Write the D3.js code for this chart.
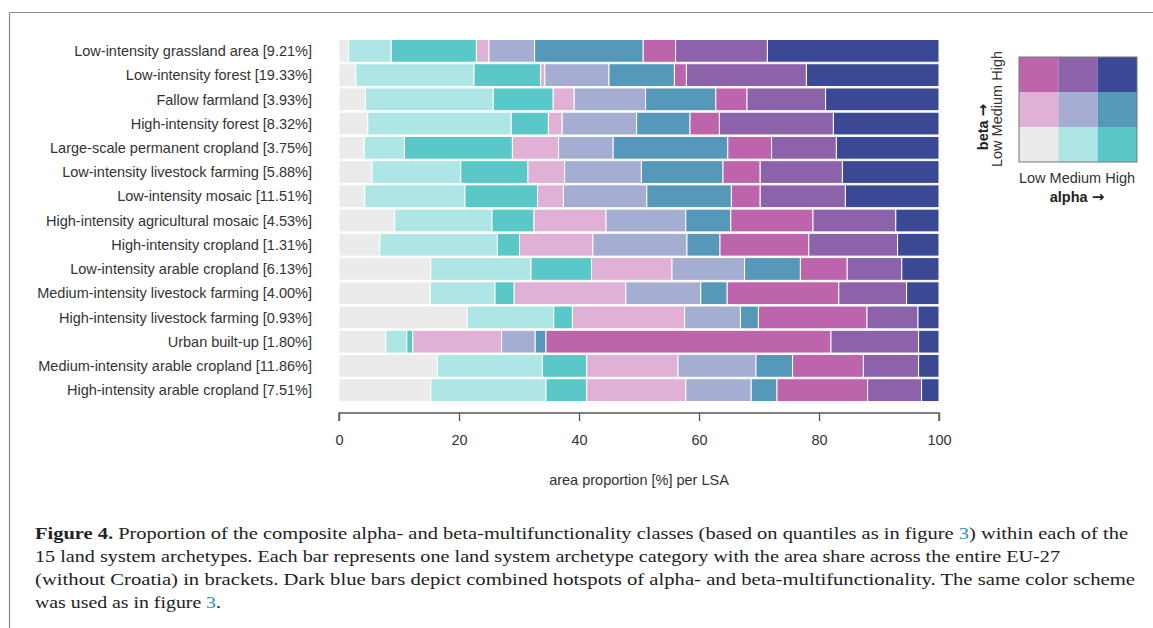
<!DOCTYPE html>
<html>
<head>
<meta charset="utf-8">
<script src="https://cdn.jsdelivr.net/npm/d3@7"></script>
<style>
  body { margin: 0; background: #fff; }
  svg { display: block; }
</style>
</head>
<body>
<div id="chart"></div>
<script>
// land system archetypes, top to bottom
const categories = [
  "Low-intensity grassland area [9.21%]",
  "Low-intensity forest [19.33%]",
  "Fallow farmland [3.93%]",
  "High-intensity forest [8.32%]",
  "Large-scale permanent cropland [3.75%]",
  "Low-intensity livestock farming [5.88%]",
  "Low-intensity mosaic [11.51%]",
  "High-intensity agricultural mosaic [4.53%]",
  "High-intensity cropland [1.31%]",
  "Low-intensity arable cropland [6.13%]",
  "Medium-intensity livestock farming [4.00%]",
  "High-intensity livestock farming [0.93%]",
  "Urban built-up [1.80%]",
  "Medium-intensity arable cropland [11.86%]",
  "High-intensity arable cropland [7.51%]"
];

// area share [%] per class (alpha / beta), one value per archetype
const lowLow       = [1.6, 2.8, 4.4, 4.8, 4.2, 5.5, 4.3, 9.3, 6.8, 15.3, 15.2, 21.4, 7.8, 16.4, 15.3];
const medLow       = [7.1, 19.7, 21.3, 23.9, 6.7, 14.8, 16.7, 16.2, 19.6, 16.7, 10.8, 14.4, 3.5, 17.5, 19.2];
const highLow      = [14.2, 11.1, 10.0, 6.2, 18.0, 11.2, 12.1, 7.0, 3.7, 10.1, 3.2, 3.1, 1.0, 7.4, 6.8];
const lowMed       = [2.1, 0.7, 3.5, 2.3, 7.7, 6.1, 4.3, 12.0, 12.2, 13.4, 18.6, 18.7, 14.8, 15.2, 16.5];
const medMed       = [7.6, 10.7, 11.9, 12.4, 9.1, 12.8, 13.9, 13.3, 15.7, 12.1, 12.5, 9.3, 5.6, 13.0, 10.9];
const highMed      = [18.1, 10.9, 11.7, 8.9, 19.1, 13.6, 14.1, 7.5, 5.5, 9.3, 4.4, 3.0, 1.8, 6.1, 4.3];
const lowHigh      = [5.4, 2.0, 5.2, 4.9, 7.3, 6.2, 4.8, 13.7, 14.8, 7.8, 18.6, 18.1, 47.5, 11.8, 15.1];
const medHigh      = [15.3, 20.0, 13.1, 19.0, 10.8, 13.7, 14.2, 13.8, 14.8, 9.1, 11.3, 8.5, 14.6, 9.2, 9.0];
const highHigh     = [28.6, 22.1, 18.9, 17.6, 17.1, 16.1, 15.6, 7.2, 6.9, 6.2, 5.4, 3.5, 3.4, 3.4, 2.9];

const classKeys = ["lowLow", "medLow", "highLow", "lowMed", "medMed", "highMed", "lowHigh", "medHigh", "highHigh"];
const classColors = ["#ebebeb", "#aee6e6", "#5ac8c8", "#e0b0d6", "#a5add3", "#5698b9", "#be64ac", "#8c62aa", "#3b4994"];
const xTicks = [0, 20, 40, 60, 80, 100];
const levelLabels = ["Low", "Medium", "High"];

const series = { lowLow, medLow, highLow, lowMed, medMed, highMed, lowHigh, medHigh, highHigh };
const rows = categories.map((c, i) => {
  const r = { category: c };
  classKeys.forEach(k => { r[k] = series[k][i]; });
  return r;
});

const width = 1153;
const height = 628;
const sans = "'Liberation Sans', Arial, sans-serif";

const svg = d3.select("#chart")
  .append("svg")
  .attr("width", width)
  .attr("height", height);

// frame lines
svg.append("line")
  .attr("x1", 9.5).attr("x2", width).attr("y1", 12.5).attr("y2", 12.5)
  .attr("stroke", "#8a8a8a").attr("stroke-width", 1.2);
svg.append("line")
  .attr("x1", 9.5).attr("x2", 9.5).attr("y1", 12.5).attr("y2", height)
  .attr("stroke", "#8a8a8a").attr("stroke-width", 1.2);

const x = d3.scaleLinear().domain([0, 100]).range([339, 939]);
const y = d3.scaleBand().domain(categories).range([39, 402]).paddingInner(0.06).paddingOuter(0.02);

const stacked = d3.stack().keys(classKeys)(rows);
const color = d3.scaleOrdinal().domain(classKeys).range(classColors);

svg.append("g")
  .selectAll("g")
  .data(stacked)
  .enter()
  .append("g")
  .attr("fill", d => color(d.key))
  .selectAll("rect")
  .data(d => d)
  .enter()
  .append("rect")
  .attr("x", d => x(d[0]))
  .attr("y", d => y(d.data.category))
  .attr("width", d => Math.max(0, x(d[1]) - x(d[0])))
  .attr("height", y.bandwidth())
  .attr("stroke", "#fff")
  .attr("stroke-width", 1);

// category labels
svg.append("g")
  .selectAll("text")
  .data(categories)
  .enter()
  .append("text")
  .attr("x", 312)
  .attr("y", d => y(d) + y.bandwidth() / 2)
  .attr("dy", "0.36em")
  .attr("text-anchor", "end")
  .style("font-family", sans)
  .style("font-size", "14.5px")
  .style("fill", "#333")
  .text(d => d);

// x axis
const xAxis = svg.append("g")
  .attr("transform", "translate(0,413)")
  .call(d3.axisBottom(x).tickValues(xTicks).tickSize(8).tickPadding(14));
xAxis.select(".domain").attr("stroke", "#555").attr("stroke-width", 1.3)
  .attr("d", `M${x(0)},8V0H${x(100)}V8`);
xAxis.selectAll(".tick line").attr("stroke", "#555").attr("stroke-width", 1.3);
xAxis.selectAll(".tick text")
  .style("font-family", sans)
  .style("font-size", "14.5px")
  .style("fill", "#333");

svg.append("text")
  .attr("x", x(50))
  .attr("y", 485)
  .attr("text-anchor", "middle")
  .style("font-family", sans)
  .style("font-size", "14.5px")
  .style("fill", "#333")
  .text("area proportion [%] per LSA");

// bivariate legend
const lx = d3.scaleBand().domain([0, 1, 2]).range([1019, 1137]);
const ly = d3.scaleBand().domain([2, 1, 0]).range([57, 162]);
const legendCells = [];
classKeys.forEach((k, i) => legendCells.push({ key: k, a: i % 3, b: Math.floor(i / 3) }));

const legend = svg.append("g");
legend.selectAll("rect")
  .data(legendCells)
  .enter()
  .append("rect")
  .attr("x", d => lx(d.a))
  .attr("y", d => ly(d.b))
  .attr("width", lx.bandwidth())
  .attr("height", ly.bandwidth())
  .attr("fill", d => color(d.key));
legend.append("rect")
  .attr("x", 1019).attr("y", 57).attr("width", 118).attr("height", 105)
  .attr("fill", "none").attr("stroke", "#777").attr("stroke-width", 1);

legend.append("text")
  .attr("x", 1077).attr("y", 183)
  .attr("text-anchor", "middle")
  .style("font-family", sans).style("font-size", "14.5px").style("fill", "#333")
  .text(levelLabels.join(" "));

const alphaTitle = legend.append("text")
  .attr("x", 1077).attr("y", 202)
  .attr("text-anchor", "middle")
  .style("font-family", sans).style("font-size", "14.5px").style("font-weight", "bold").style("fill", "#222");
alphaTitle.append("tspan").text("alpha ");
alphaTitle.append("tspan").style("font-family", "'DejaVu Sans', sans-serif").style("font-size", "15px").text("\u2192");

legend.append("text")
  .attr("transform", "translate(1002,109) rotate(-90)")
  .attr("text-anchor", "middle")
  .style("font-family", sans).style("font-size", "14.5px").style("fill", "#333")
  .text(levelLabels.join(" "));

const betaTitle = legend.append("text")
  .attr("transform", "translate(988,127) rotate(-90)")
  .attr("text-anchor", "middle")
  .style("font-family", sans).style("font-size", "14.5px").style("font-weight", "bold").style("fill", "#222");
betaTitle.append("tspan").text("beta ");
betaTitle.append("tspan").style("font-family", "'DejaVu Sans', sans-serif").style("font-size", "15px").text("\u2192");

// caption
const captionLines = [
  { y: 539, len: 1093, parts: [["Figure 4.", "b"], [" Proportion of the composite alpha- and beta-multifunctionality classes (based on quantiles as in figure ", ""], ["3", "l"], [") within each of the", ""]] },
  { y: 562, len: 1025, parts: [["15 land system archetypes. Each bar represents one land system archetype category with the area share across the entire EU-27", ""]] },
  { y: 585, len: 1100, parts: [["(without Croatia) in brackets. Dark blue bars depict combined hotspots of alpha- and beta-multifunctionality. The same color scheme", ""]] },
  { y: 608, len: 186, parts: [["was used as in figure ", ""], ["3", "l"], [".", ""]] }
];

const caption = svg.append("g");
captionLines.forEach(line => {
  const t = caption.append("text")
    .attr("x", 35)
    .attr("y", line.y)
    .attr("textLength", line.len)
    .attr("lengthAdjust", "spacingAndGlyphs")
    .style("font-family", "'Liberation Serif', 'DejaVu Serif', serif")
    .style("font-size", "17px")
    .style("fill", "#222");
  line.parts.forEach(p => {
    t.append("tspan")
      .style("font-weight", p[1] === "b" ? "bold" : "normal")
      .style("fill", p[1] === "l" ? "#2f8fc8" : "#222")
      .text(p[0]);
  });
});
</script>
</body>
</html>
